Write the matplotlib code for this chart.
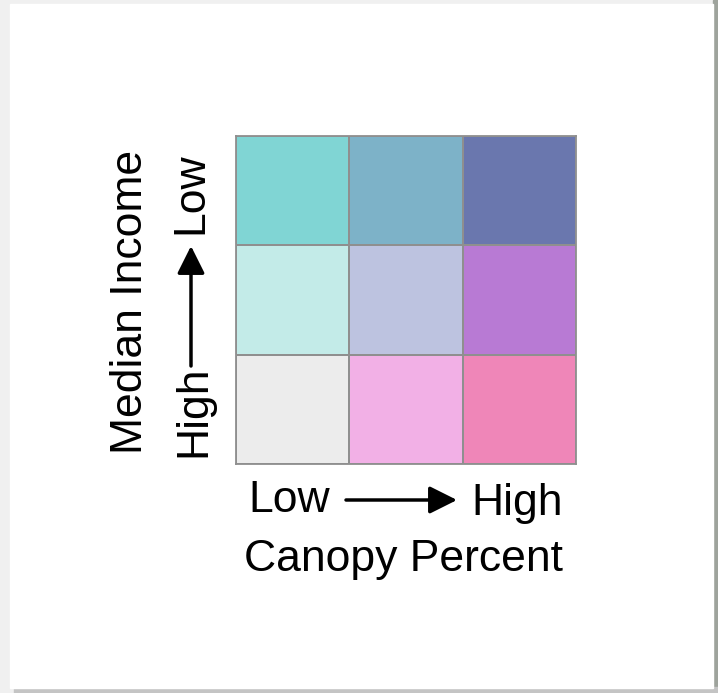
import matplotlib.pyplot as plt
import numpy as np
from matplotlib.colors import ListedColormap
from matplotlib.patches import Rectangle

# bivariate legend: rows = income (bottom High -> top Low), cols = canopy (Low -> High)
cell_colors = [
    ['#ececec', '#f2b0e6', '#ef86b8'],  # High income
    ['#c3ebe8', '#bdc3e0', '#b87ad4'],  # mid income
    ['#80d5d4', '#7db2c8', '#6a77ae'],  # Low income
]
x_label = 'Canopy Percent'
y_label = 'Median Income'
x_ends = ['Low', 'High']
y_ends = ['High', 'Low']

W, H = 718, 693
fig = plt.figure(figsize=(W / 100, H / 100), dpi=100, facecolor='#f0f0f0')
plt.rcParams['font.family'] = ['Liberation Sans', 'DejaVu Sans']

# page background pieces (screenshot frame)
bg = fig.add_axes([0, 0, 1, 1])
bg.set_xlim(0, W)
bg.set_ylim(H, 0)
bg.axis('off')
bg.add_patch(Rectangle((713, 0), 5, H, color='#9ea39c', zorder=0))
bg.add_patch(Rectangle((14, 687), 704, 6, color='#c4c4c4', zorder=0))
bg.add_patch(Rectangle((10, 4), 703, 684, color='white', zorder=1))

# the 3x3 grid
ax = fig.add_axes([236 / W, 1 - 464 / H, 340 / W, 328 / H])
flat = [c for row in cell_colors for c in row]
idx = np.arange(9).reshape(3, 3)
ax.pcolormesh(np.arange(4), np.arange(4), idx, cmap=ListedColormap(flat),
              vmin=-0.5, vmax=8.5, edgecolors='#8f8f8f', linewidth=1.3)
ax.set_xlim(0, 3)
ax.set_ylim(0, 3)
ax.set_xticks([])
ax.set_yticks([])
for s in ax.spines.values():
    s.set_color('#8f8f8f')
    s.set_linewidth(1.3)

fs = 32
arrow = dict(arrowstyle='-|>', lw=2.5, mutation_scale=42, color='black',
             shrinkA=0, shrinkB=0)

# x direction
bg.text(289, 500, x_ends[0], fontsize=fs, ha='center', va='center', zorder=3)
bg.text(517, 503, x_ends[1], fontsize=fs, ha='center', va='center', zorder=3)
bg.annotate('', xy=(457, 500), xytext=(346, 500), arrowprops=arrow, zorder=3)
bg.text(403, 560, x_label, fontsize=fs, ha='center', va='center', zorder=3)

# y direction
bg.text(194, 411, y_ends[0], fontsize=fs, ha='center', va='center', rotation=90, zorder=3)
bg.text(191, 193, y_ends[1], fontsize=fs, ha='center', va='center', rotation=90, zorder=3)
bg.annotate('', xy=(191, 246), xytext=(191, 366), arrowprops=arrow, zorder=3)
bg.text(131, 302, y_label, fontsize=fs, ha='center', va='center', rotation=90, zorder=3)

fig.savefig('out.png', dpi=100, facecolor=fig.get_facecolor())
